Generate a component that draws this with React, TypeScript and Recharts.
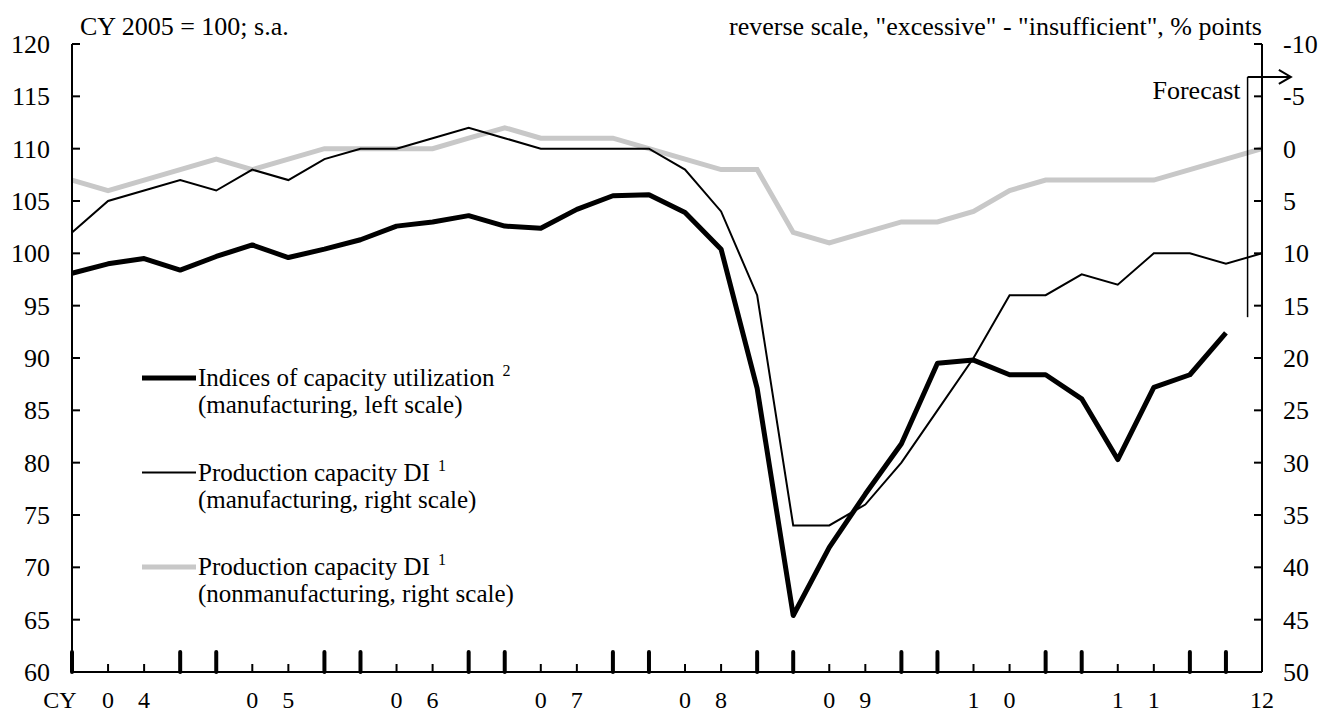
import React from 'react';
import { LineChart, Line, XAxis, YAxis, ReferenceLine, Legend } from 'recharts';

const FONT = "'Liberation Serif', 'Times New Roman', serif";

// 2004Q1 .. 2012Q2
const quarters = [
  '04Q1', '04Q2', '04Q3', '04Q4', '05Q1', '05Q2', '05Q3', '05Q4',
  '06Q1', '06Q2', '06Q3', '06Q4', '07Q1', '07Q2', '07Q3', '07Q4',
  '08Q1', '08Q2', '08Q3', '08Q4', '09Q1', '09Q2', '09Q3', '09Q4',
  '10Q1', '10Q2', '10Q3', '10Q4', '11Q1', '11Q2', '11Q3', '11Q4',
  '12Q1', '12Q2',
];

const xTickLabels = [
  'CY', '0', '4', '', '', '0', '5', '', '', '0', '6', '', '', '0', '7', '',
  '', '0', '8', '', '', '0', '9', '', '', '1', '0', '', '', '1', '1', '', '', '12',
];

// indices of capacity utilization (manufacturing, left scale)
const utilization = [
  98.1, 99.0, 99.5, 98.4, 99.7, 100.8, 99.6, 100.4, 101.3, 102.6, 103.0, 103.6,
  102.6, 102.4, 104.2, 105.5, 105.6, 103.9, 100.4, 87.1, 65.4, 71.9, 77.0, 81.8,
  89.5, 89.8, 88.4, 88.4, 86.1, 80.3, 87.2, 88.4, 92.4, null,
];

// production capacity DI (manufacturing, right scale)
const diMfg = [
  8, 5, 4, 3, 4, 2, 3, 1, 0, 0, -1, -2, -1, 0, 0, 0, 0, 2, 6, 14,
  36, 36, 34, 30, 25, 20, 14, 14, 12, 13, 10, 10, 11, 10,
];

// production capacity DI (nonmanufacturing, right scale)
const diNonMfg = [
  3, 4, 3, 2, 1, 2, 1, 0, 0, 0, 0, -1, -2, -1, -1, -1, 0, 1, 2, 2,
  8, 9, 8, 7, 7, 6, 4, 3, 3, 3, 3, 2, 1, 0,
];

const leftTicks = [60, 65, 70, 75, 80, 85, 90, 95, 100, 105, 110, 115, 120];
const rightTicks = [-10, -5, 0, 5, 10, 15, 20, 25, 30, 35, 40, 45, 50];

const forecastAt = 32.6;

const data = quarters.map((q, i) => ({
  i,
  q,
  util: utilization[i],
  mfg: diMfg[i],
  nonMfg: diNonMfg[i],
}));
const xTicks = quarters.map((_, i) => i);

const XTick = (props: any) => {
  const { x, y, payload } = props;
  const i = payload.value;
  const tall = i % 4 === 0 || i % 4 === 3;
  return (
    <g>
      {i !== quarters.length - 1 && (
        <line
          x1={x} x2={x} y1={y} y2={y - (tall ? 20 : 8)}
          stroke="#000" strokeWidth={tall ? 4 : 2} strokeLinecap={tall ? 'round' : 'butt'}
        />
      )}
      <text x={i === 0 ? x - 12 : x} y={y + 36} textAnchor="middle" fontSize={24} fontFamily={FONT} fill="#000">
        {xTickLabels[i]}
      </text>
    </g>
  );
};

const LeftTick = (props: any) => {
  const { x, y, payload } = props;
  return (
    <g>
      <line x1={x} x2={x + 8} y1={y} y2={y} stroke="#000" strokeWidth={2} />
      <text x={x - 22} y={y + 9} textAnchor="end" fontSize={26} fontFamily={FONT} fill="#000">{payload.value}</text>
    </g>
  );
};

const RightTick = (props: any) => {
  const { x, y, payload } = props;
  return (
    <g>
      <line x1={x} x2={x - 8} y1={y} y2={y} stroke="#000" strokeWidth={2} />
      <text x={x + 21} y={y + 9} textAnchor="start" fontSize={26} fontFamily={FONT} fill="#000">{payload.value}</text>
    </g>
  );
};

const ForecastLine = (props: any) => {
  const { x1, y1, x2, y2 } = props;
  return (
    <g>
      <line x1={x1} y1={y1} x2={x2} y2={y2} stroke="#000" strokeWidth={1.5} />
      <text x={x1 - 7} y={y1 + 22} textAnchor="end" fontSize={26} fontFamily={FONT} fill="#000">Forecast</text>
    </g>
  );
};

const ForecastArrow = (props: any) => {
  const { x1, y1, x2, y2 } = props;
  return (
    <g fill="none" stroke="#000" strokeWidth={2}>
      <line x1={x1} y1={y1} x2={x2} y2={y2} />
      <polyline points={`${x2 - 12},${y2 - 7} ${x2},${y2} ${x2 - 12},${y2 + 7}`} />
    </g>
  );
};

const legendItems = [
  { text: 'Indices of capacity utilization', sup: '2', sub: '(manufacturing, left scale)', color: '#000', width: 5 },
  { text: 'Production capacity DI', sup: '1', sub: '(manufacturing, right scale)', color: '#000', width: 2 },
  { text: 'Production capacity DI', sup: '1', sub: '(nonmanufacturing, right scale)', color: '#c8c8c8', width: 5 },
];

const renderLegend = () => (
  <svg width={420} height={260} style={{ display: 'block' }}>
    {legendItems.map((it, k) => {
      const cy = 28 + k * 94.5;
      return (
        <g key={k}>
          <line x1={0} x2={54} y1={cy} y2={cy} stroke={it.color} strokeWidth={it.width} />
          <text x={56} y={cy + 8} fontSize={25} fontFamily={FONT} fill="#000">
            {it.text}
            <tspan dx={8} dy={-10} fontSize={16}>{it.sup}</tspan>
          </text>
          <text x={56} y={cy + 35} fontSize={25} fontFamily={FONT} fill="#000">{it.sub}</text>
        </g>
      );
    })}
  </svg>
);

const LeftTitle = (props: any) => {
  const { viewBox } = props;
  return (
    <text x={viewBox.x + viewBox.width + 8} y={viewBox.y - 9} fontSize={26} fontFamily={FONT} fill="#000">
      CY 2005 = 100; s.a.
    </text>
  );
};

const RightTitle = (props: any) => {
  const { viewBox } = props;
  return (
    <text x={viewBox.x} y={viewBox.y - 9} textAnchor="end" fontSize={26} fontFamily={FONT} fill="#000">
      reverse scale, "excessive" - "insufficient", % points
    </text>
  );
};

const App: React.FC = () => (
  <div style={{ position: 'absolute', left: 0, top: 0, background: '#fff' }}>
    <LineChart width={1325} height={715} data={data} margin={{ top: 44, right: 0, bottom: 0, left: 0 }}>
      <XAxis
        dataKey="i" type="number" domain={[0, quarters.length - 1]} ticks={xTicks} interval={0}
        height={43} tickSize={0} tickMargin={0} tickLine={false}
        axisLine={{ stroke: '#000', strokeWidth: 2 }} tick={<XTick />}
      />
      <XAxis
        xAxisId="top" orientation="top" dataKey="i" type="number" domain={[0, quarters.length - 1]}
        height={0} tick={false} tickLine={false} axisLine={{ stroke: '#000', strokeWidth: 2 }}
      />
      <YAxis
        yAxisId="left" domain={[60, 120]} ticks={leftTicks} interval={0} width={72}
        tickSize={0} tickMargin={0} tickLine={false}
        axisLine={{ stroke: '#000', strokeWidth: 2 }} tick={<LeftTick />}
        label={<LeftTitle />}
      />
      <YAxis
        yAxisId="right" orientation="right" reversed domain={[-10, 50]} ticks={rightTicks} interval={0} width={63}
        tickSize={0} tickMargin={0} tickLine={false}
        axisLine={{ stroke: '#000', strokeWidth: 2 }} tick={<RightTick />}
        label={<RightTitle />}
      />
      <Legend
        layout="vertical" align="center" verticalAlign="middle" content={renderLegend}
        wrapperStyle={{ position: 'absolute', left: 142, top: 350, width: 420, height: 260 }}
      />
      <Line yAxisId="right" dataKey="nonMfg" stroke="#c8c8c8" strokeWidth={5} dot={false} isAnimationActive={false} />
      <Line yAxisId="right" dataKey="mfg" stroke="#000" strokeWidth={2} dot={false} isAnimationActive={false} />
      <Line yAxisId="left" dataKey="util" stroke="#000" strokeWidth={5} dot={false} strokeLinejoin="round" isAnimationActive={false} />
      <ReferenceLine
        yAxisId="right" ifOverflow="visible"
        segment={[{ x: forecastAt, y: -6.85 }, { x: forecastAt, y: 16.1 }]}
        shape={<ForecastLine />}
      />
      <ReferenceLine
        yAxisId="right" ifOverflow="visible"
        segment={[{ x: forecastAt, y: -6.85 }, { x: 33.8, y: -6.85 }]}
        shape={<ForecastArrow />}
      />
    </LineChart>
  </div>
);

export default App;
